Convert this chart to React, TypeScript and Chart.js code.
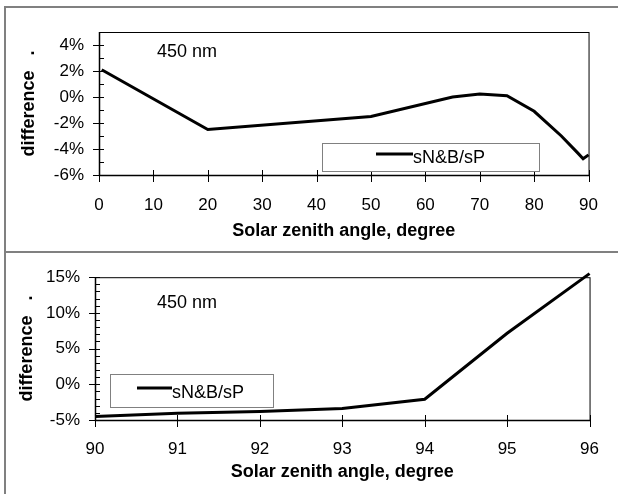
import React, { useEffect, useRef } from 'react';
import { Chart, registerables } from 'chart.js';

Chart.register(...registerables);

// ---- data ----
const topAngles = [0.5, 20, 50, 65, 70, 75, 80, 85, 88, 89, 90];
const topDiff = [2.1, -2.5, -1.5, 0.0, 0.23, 0.1, -1.1, -3.0, -4.3, -4.75, -4.45];
const bottomAngles = [90, 91, 92, 93, 94, 95, 96];
const bottomDiff = [-4.5, -4.05, -3.8, -3.4, -2.1, 7.15, 15.5];
const seriesLabel = 'sN&B/sP';
const wavelengthLabel = '450 nm';
const xTitle = 'Solar zenith angle, degree';
const yTitle = 'difference   .';

const FONT = '"Liberation Sans", Arial, sans-serif';

const framePlugin = {
  id: 'frame',
  afterDraw(chart: any, _args: any, opts: any) {
    const { ctx, chartArea: a } = chart;
    const xs = chart.scales.x;
    const ys = chart.scales.y;
    ctx.save();
    ctx.strokeStyle = '#000';
    // plot frame
    ctx.lineWidth = 1;
    ctx.strokeRect(a.left + 0.5, a.top + 0.5, a.right - a.left, a.bottom - a.top);
    // axes a little heavier
    ctx.lineWidth = 1.5;
    ctx.beginPath();
    ctx.moveTo(a.left + 0.5, a.top);
    ctx.lineTo(a.left + 0.5, a.bottom + 0.5);
    ctx.lineTo(a.right + 0.5, a.bottom + 0.5);
    ctx.stroke();
    // ticks
    ctx.lineWidth = 1;
    ctx.beginPath();
    ys.ticks.forEach((t: any) => {
      const y = Math.round(ys.getPixelForValue(t.value)) + 0.5;
      const major = Math.round(t.value) % opts.yMajor === 0;
      ctx.moveTo(major ? a.left - 6 : a.left, y);
      ctx.lineTo(a.left + 5, y);
    });
    xs.ticks.forEach((t: any) => {
      const x = Math.round(xs.getPixelForValue(t.value)) + 0.5;
      ctx.moveTo(x, a.bottom - 5);
      ctx.lineTo(x, a.bottom + 7);
    });
    ctx.stroke();
    // wavelength annotation
    ctx.fillStyle = '#000';
    ctx.font = '18px ' + FONT;
    ctx.textBaseline = 'middle';
    ctx.textAlign = 'left';
    ctx.fillText(opts.note, opts.noteX, opts.noteY);
    // legend box
    const L = opts.legend;
    ctx.fillStyle = '#fff';
    ctx.fillRect(L.x, L.y, L.w, L.h);
    ctx.strokeStyle = '#808080';
    ctx.lineWidth = 1;
    ctx.strokeRect(L.x + 0.5, L.y + 0.5, L.w, L.h);
    const ds = chart.data.datasets[0];
    ctx.strokeStyle = ds.borderColor;
    ctx.lineWidth = ds.borderWidth;
    ctx.beginPath();
    ctx.moveTo(L.lx1, L.ly);
    ctx.lineTo(L.lx2, L.ly);
    ctx.stroke();
    ctx.fillStyle = '#000';
    ctx.font = '18px ' + FONT;
    ctx.fillText(ds.label, L.tx, L.ty);
    ctx.restore();
  },
};

function makeConfig(p: any) {
  return {
    type: 'line',
    data: {
      datasets: [
        {
          label: seriesLabel,
          data: p.xs.map((x: number, i: number) => ({ x, y: p.ys[i] })),
          borderColor: '#000',
          borderWidth: 3,
          pointRadius: 0,
          tension: 0,
          fill: false,
          clip: false,
        },
      ],
    },
    options: {
      animation: false,
      responsive: false,
      devicePixelRatio: 1,
      layout: { padding: { left: 0, right: 15, top: p.padTop, bottom: p.padBottom } },
      plugins: {
        legend: { display: false },
        tooltip: { enabled: false },
        frame: {
          yMajor: p.yMajor,
          note: wavelengthLabel,
          noteX: 157,
          noteY: p.noteY,
          legend: p.legend,
        },
      },
      scales: {
        x: {
          type: 'linear',
          min: p.xMin,
          max: p.xMax,
          grid: { display: false, drawTicks: false },
          border: { display: false },
          afterFit: (s: any) => { s.height = p.xAxisH; },
          ticks: {
            stepSize: p.xStep,
            autoSkip: false,
            maxRotation: 0,
            padding: p.xTickPad,
            color: '#000',
            font: { family: FONT, size: 17 },
          },
          title: {
            display: true,
            text: xTitle,
            color: '#000',
            padding: 0,
            font: { family: FONT, size: 18, weight: 'bold' },
          },
        },
        y: {
          type: 'linear',
          min: p.yMin,
          max: p.yMax,
          grid: { display: false, drawTicks: false },
          border: { display: false },
          afterFit: (s: any) => { s.width = p.yAxisW; },
          ticks: {
            stepSize: 1,
            autoSkip: false,
            padding: 15,
            color: '#000',
            font: { family: FONT, size: 17 },
            callback: (v: number) => (Math.round(v) % p.yMajor === 0 ? Math.round(v) + '%' : ''),
          },
          title: {
            display: true,
            text: yTitle,
            color: '#000',
            padding: { top: p.yTitlePad, bottom: 0 },
            font: { family: FONT, size: 18, weight: 'bold' },
          },
        },
      },
    },
    plugins: [framePlugin],
  };
}

const topParams = {
  xs: topAngles, ys: topDiff,
  xMin: 0, xMax: 90, xStep: 10,
  yMin: -6, yMax: 5, yMajor: 2,
  padTop: 32, padBottom: 10, xAxisH: 67, yAxisW: 99,
  xTickPad: 20, yTitlePad: 18, noteY: 52,
  legend: { x: 322, y: 143, w: 217, h: 28, lx1: 376, lx2: 413, ly: 154, tx: 413, ty: 158 },
};

const bottomParams = {
  xs: bottomAngles, ys: bottomDiff,
  xMin: 90, xMax: 96, xStep: 1,
  yMin: -5, yMax: 15, yMajor: 5,
  padTop: 24, padBottom: 11, xAxisH: 63, yAxisW: 95,
  xTickPad: 19, yTitlePad: 16, noteY: 51,
  legend: { x: 110, y: 122, w: 163, h: 33, lx1: 137, lx2: 172, ly: 136, tx: 172, ty: 141 },
};

function Panel({ params, top, height }: { params: any; top: number; height: number }) {
  const ref = useRef<HTMLCanvasElement | null>(null);
  useEffect(() => {
    if (!ref.current) return;
    const chart = new Chart(ref.current, makeConfig(params) as any);
    return () => chart.destroy();
  }, [params]);
  return (
    <canvas
      ref={ref}
      width={618}
      height={height}
      style={{ position: 'absolute', left: 0, top, width: 618, height }}
    />
  );
}

export default function App() {
  useEffect(() => {
    document.body.style.margin = '0';
  }, []);
  return (
    <div style={{ position: 'relative', width: 618, height: 494, overflow: 'hidden', background: '#fff' }}>
      <div
        style={{
          position: 'absolute', left: 4, top: 6, width: 700, height: 600,
          borderTop: '2px solid #808080', borderLeft: '2px solid #808080',
        }}
      />
      <div style={{ position: 'absolute', left: 4, top: 251, width: 700, height: 2, background: '#808080' }} />
      <Panel params={topParams} top={0} height={252} />
      <Panel params={bottomParams} top={252} height={242} />
    </div>
  );
}
